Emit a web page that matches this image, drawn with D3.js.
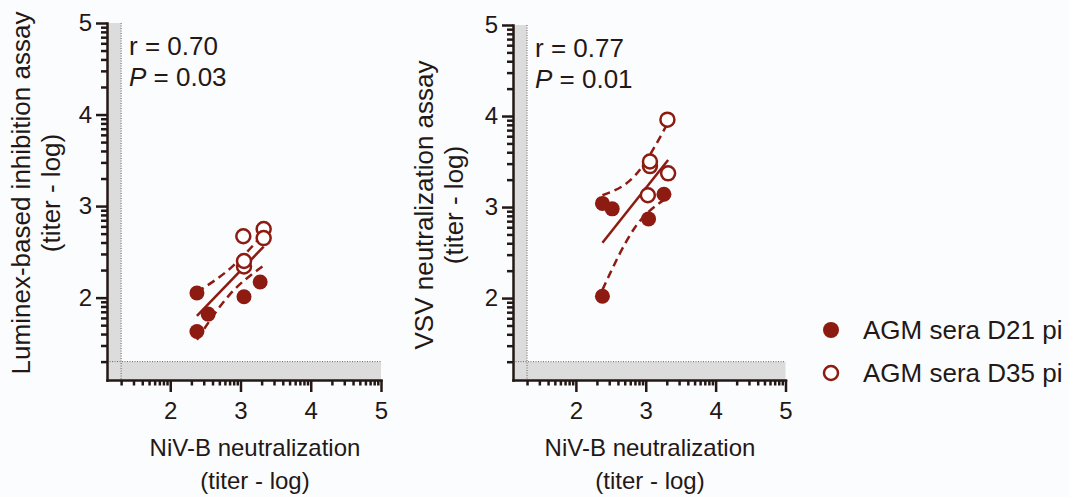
<!DOCTYPE html>
<html>
<head>
<script src="https://cdnjs.cloudflare.com/ajax/libs/d3/7.8.5/d3.min.js"></script>
<style>
    body { margin: 0; background: #fbfcfe; }
    text { font-family: "Liberation Sans", Arial, sans-serif; fill: #231815; }
    .domain, .tick line { stroke: #231815; stroke-width: 2.5px; }
</style>
</head>
<body>
<div id="chart"></div>
<script>
const width = 1069, height = 497;
const red = "#8d1b12";

// log10 titers: NiV-B neutralization (x) against the second assay (y)
const luminexD21X = [2.38, 2.54, 2.38, 3.05, 3.28];
const luminexD21Y = [2.05, 1.82, 1.63, 2.01, 2.17];
const luminexD35X = [3.04, 3.33, 3.33, 3.05, 3.05];
const luminexD35Y = [2.67, 2.75, 2.65, 2.34, 2.40];

const vsvD21X = [2.38, 2.52, 3.04, 3.26, 2.38];
const vsvD21Y = [3.04, 2.98, 2.87, 3.14, 2.02];
const vsvD35X = [3.31, 3.06, 3.06, 3.32, 3.03];
const vsvD35Y = [3.96, 3.45, 3.50, 3.37, 3.13];

// 95% confidence band
const luminexBandX = [2.38, 2.855, 3.33];
const luminexUpper = [2.06, 2.32, 2.70];
const luminexLower = [1.54, 2.04, 2.35];
const vsvBandX = [2.38, 2.85, 3.32];
const vsvUpper = [3.13, 3.35, 3.93];
const vsvLower = [2.09, 2.78, 3.11];

const majorTicks = [2, 3, 4, 5];
const minorSteps = [2, 3, 4, 5, 6, 7, 8, 9];
const axisMin = 1.1, axisMax = 5;
const lod = Math.log10(20);
const seriesNames = ["AGM sera D21 pi", "AGM sera D35 pi"];

const panels = [
    { left: 107, right: 381, top: 23, yTitle: "Luminex-based inhibition assay",
      d21: [luminexD21X, luminexD21Y], d35: [luminexD35X, luminexD35Y],
      band: [luminexBandX, luminexUpper, luminexLower],
      r: "0.70", p: "0.03", yTitleX: 21, yTitleY: 193, xTitleX: 255 },
    { left: 513, right: 785.5, top: 25, yTitle: "VSV neutralization assay",
      d21: [vsvD21X, vsvD21Y], d35: [vsvD35X, vsvD35Y],
      band: [vsvBandX, vsvUpper, vsvLower],
      r: "0.77", p: "0.01", yTitleX: 424, yTitleY: 205, xTitleX: 650 }
];
const bottom = 380;

const allTicks = majorTicks.flatMap(m => minorSteps.map(k => m - 1 + Math.log10(k)))
    .concat(majorTicks)
    .filter(v => v >= axisMin - 1e-9 && v <= axisMax + 1e-9);
const isMajor = v => majorTicks.some(m => Math.abs(m - v) < 1e-9);

const svg = d3.select("#chart").append("svg").attr("width", width).attr("height", height);

function linearFit(xs, ys) {
    const mx = d3.mean(xs), my = d3.mean(ys);
    const sxx = d3.sum(xs, v => (v - mx) ** 2);
    const sxy = d3.sum(xs, (v, i) => (v - mx) * (ys[i] - my));
    const slope = sxy / sxx, icpt = my - slope * mx;
    return v => icpt + slope * v;
}

panels.forEach(p => {
    const x = d3.scaleLinear().domain([axisMin, axisMax]).range([p.left, p.right]);
    const y = d3.scaleLinear().domain([axisMin, axisMax]).range([bottom, p.top]);
    const g = svg.append("g");

    // region below the detection limit
    g.append("rect").attr("x", x(axisMin)).attr("y", y(axisMax))
        .attr("width", x(lod) - x(axisMin)).attr("height", y(axisMin) - y(axisMax))
        .attr("fill", "#dcdcdc");
    g.append("rect").attr("x", x(axisMin)).attr("y", y(lod))
        .attr("width", x(axisMax) - x(axisMin)).attr("height", y(axisMin) - y(lod))
        .attr("fill", "#dcdcdc");
    g.append("line").attr("x1", x(lod)).attr("x2", x(lod)).attr("y1", y(axisMax)).attr("y2", y(axisMin))
        .attr("stroke", "#666").attr("stroke-width", 1).attr("stroke-dasharray", "1,1.5");
    g.append("line").attr("x1", x(axisMin)).attr("x2", x(axisMax)).attr("y1", y(lod)).attr("y2", y(lod))
        .attr("stroke", "#666").attr("stroke-width", 1).attr("stroke-dasharray", "1,1.5");

    // axes
    const xAxis = g.append("g").attr("transform", `translate(0,${bottom})`)
        .call(d3.axisBottom(x).tickValues(allTicks).tickSizeOuter(0)
            .tickFormat(v => isMajor(v) ? d3.format("d")(v) : ""));
    xAxis.selectAll(".tick line").attr("y2", v => isMajor(v) ? 12 : 5.5);
    xAxis.selectAll(".tick text").attr("y", 22).attr("font-size", 24);

    const yAxis = g.append("g").attr("transform", `translate(${p.left},0)`)
        .call(d3.axisLeft(y).tickValues(allTicks).tickSizeOuter(0)
            .tickFormat(v => isMajor(v) ? d3.format("d")(v) : ""));
    yAxis.selectAll(".tick line").attr("x2", v => isMajor(v) ? -11 : -6);
    yAxis.selectAll(".tick text").attr("x", -15).attr("font-size", 24);
    g.selectAll(".domain").attr("stroke-linecap", "square");

    // regression line and confidence band
    const xs = p.d21[0].concat(p.d35[0]);
    const fit = linearFit(xs, p.d21[1].concat(p.d35[1]));
    const ends = d3.extent(xs);
    g.append("path").attr("d", d3.line().x(v => x(v)).y(v => y(fit(v)))(ends))
        .attr("fill", "none").attr("stroke", red).attr("stroke-width", 2.5);
    const bandLine = d3.line().curve(d3.curveNatural).x(d => x(d[0])).y(d => y(d[1]));
    [p.band[1], p.band[2]].forEach(vals => {
        g.append("path").attr("d", bandLine(d3.zip(p.band[0], vals)))
            .attr("fill", "none").attr("stroke", red).attr("stroke-width", 2.5)
            .attr("stroke-dasharray", "8,5");
    });

    // points
    g.selectAll(".d21").data(d3.zip(p.d21[0], p.d21[1])).join("circle")
        .attr("cx", d => x(d[0])).attr("cy", d => y(d[1])).attr("r", 7.5).attr("fill", red);
    g.selectAll(".d35").data(d3.zip(p.d35[0], p.d35[1])).join("circle")
        .attr("cx", d => x(d[0])).attr("cy", d => y(d[1])).attr("r", 7)
        .attr("fill", "#fff").attr("stroke", red).attr("stroke-width", 2.5);

    // statistics
    g.append("text").attr("x", p.left + 22).attr("y", p.top + 32).attr("font-size", 26)
        .text(`r = ${p.r}`);
    const pt = g.append("text").attr("x", p.left + 22).attr("y", p.top + 63).attr("font-size", 26);
    pt.append("tspan").attr("font-style", "italic").text("P");
    pt.append("tspan").text(` = ${p.p}`);

    // titles
    const xt = g.append("text").attr("text-anchor", "middle").attr("font-size", 24);
    xt.append("tspan").attr("x", p.xTitleX).attr("y", 456).text("NiV-B neutralization");
    xt.append("tspan").attr("x", p.xTitleX).attr("y", 489).text("(titer - log)");
    const yt = g.append("text").attr("text-anchor", "middle").attr("font-size", 26)
        .attr("transform", `translate(${p.yTitleX},${p.yTitleY}) rotate(-90)`);
    yt.append("tspan").attr("x", 0).attr("y", 9).text(p.yTitle);
    yt.append("tspan").attr("x", 0).attr("y", 39).text("(titer - log)");
});

// legend
const legend = svg.append("g").attr("transform", "translate(831,330)");
seriesNames.forEach((name, i) => {
    const row = legend.append("g").attr("transform", `translate(0,${i * 43})`);
    if (i === 0) row.append("circle").attr("r", 8).attr("fill", red);
    else row.append("circle").attr("r", 7).attr("fill", "#fff").attr("stroke", red).attr("stroke-width", 2.5);
    row.append("text").attr("x", 32).attr("y", 9).attr("font-size", 26).text(name);
});
</script>
</body>
</html>
